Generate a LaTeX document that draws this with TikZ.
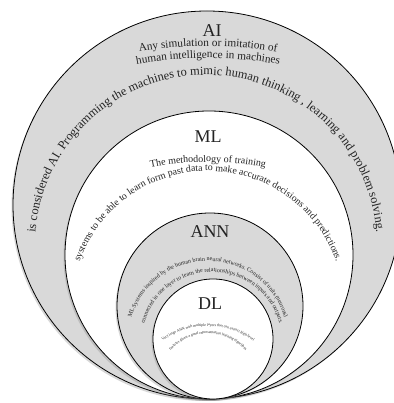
\documentclass[tikz,border=0pt]{standalone}
\usepackage{fontspec}
\setmainfont{Liberation Serif}
\usepackage{tikz}
\usetikzlibrary{shadows}
\usetikzlibrary{decorations.text}
\definecolor{ringgray}{RGB}{217,217,217}
\definecolor{inkgray}{RGB}{35,35,35}
\newcommand{\aifont}{\fontsize{11.3}{13}\selectfont}
\newcommand{\aibigfont}{\fontsize{12.4}{14}\selectfont}
\newcommand{\mlfont}{\fontsize{10}{12}\selectfont}
\newcommand{\mlbigfont}{\fontsize{9.8}{11}\selectfont}
\newcommand{\annfont}{\fontsize{6}{7}\selectfont}
\newcommand{\dlfont}{\fontsize{3.8}{4.5}\selectfont}
\tikzstyle{ring} = [circle, draw=black, line width=0.8pt, inner sep=0pt, drop shadow={shadow xshift=-1.5pt, shadow yshift=-2pt, opacity=0.3}]
\tikzstyle{grayring} = [ring, fill=ringgray]
\tikzstyle{whitering} = [ring, fill=white]
\tikzstyle{title} = [text=inkgray, font=\fontsize{18}{20}\selectfont]
\tikzset{arctext/.style={decorate, decoration={text along path, text align=center, text color=inkgray, text={#1}}}}

\begin{document}
\begin{tikzpicture}[x=1pt, y=1pt]
\useasboundingbox (0,0) rectangle (393,403);
\fill[white] (0,0) rectangle (393,403);

\node (ai)[grayring, minimum size=388pt] at (207,198) {};
\node (ml)[whitering, minimum size=288pt] at (209,148) {};
\node (ann)[grayring, minimum size=186pt] at (210,97) {};
\node (dl)[whitering, minimum size=120pt] at (213,64) {};

\node (ailabel)[title] at (212,372) {AI};
\node (mllabel)[title] at (208,266) {ML};
\node (annlabel)[title] at (210,171) {ANN};
\node (dllabel)[title] at (210,99) {DL};

% AI ring
\path[arctext={|\aifont|Any simulation or imitation of}] (208,-43) ++(110:400pt) arc[start angle=110, end angle=70, radius=400pt];
\path[arctext={|\aifont|human intelligence in machines}] (208,-55) ++(110:400pt) arc[start angle=110, end angle=70, radius=400pt];
\path[arctext={|\aibigfont|is considered AI. Programming the machines to mimic human thinking , learning and problem solving.}] (206,157) ++(200:171pt) arc[start angle=200, end angle=-20, radius=171pt];

% ML ring
\path[arctext={|\mlfont|The methodology of training}] (208,-59) ++(110:300pt) arc[start angle=110, end angle=70, radius=300pt];
\path[arctext={|\mlbigfont|systems to be able to learn form past data to make accurate decisions and predictions.}] (208,96) ++(200:136pt) arc[start angle=200, end angle=-20, radius=136pt];

% ANN ring
\path[arctext={|\annfont|ML Systems inspired by the human brain neural networks. Consist of units (neurons)}] (208,62) ++(200:80pt) arc[start angle=200, end angle=-20, radius=80pt];
\path[arctext={|\annfont|connected in one layer to learn the relationships between inputs and outputs.}] (212,61) ++(200:70pt) arc[start angle=200, end angle=-20, radius=70pt];

% DL
\path[arctext={|\dlfont|Very large ANN with multiple layers that can extract high-level}] (208,0) ++(145:77pt) arc[start angle=145, end angle=35, radius=77pt];
\path[arctext={|\dlfont|features given a good representation learning algorithm}] (208,19.5) ++(165:50pt) arc[start angle=165, end angle=15, radius=50pt];

\end{tikzpicture}
\end{document}
